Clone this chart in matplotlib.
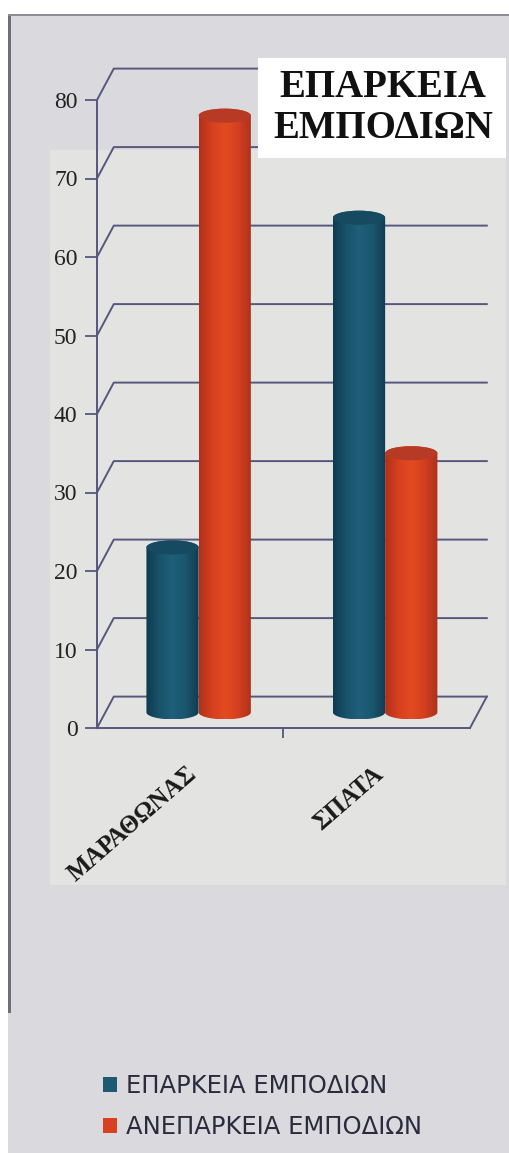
import numpy as np
import matplotlib.pyplot as plt
from matplotlib.patches import Polygon, Ellipse, Rectangle, Patch
from matplotlib.colors import LinearSegmentedColormap
from matplotlib.transforms import ScaledTranslation

categories = ["ΜΑΡΑΘΩΝΑΣ", "ΣΠΑΤΑ"]
series_names = ["ΕΠΑΡΚΕΙΑ ΕΜΠΟΔΙΩΝ", "ΑΝΕΠΑΡΚΕΙΑ ΕΜΠΟΔΙΩΝ"]
adequate = [21, 63]
inadequate = [76, 33]
yticks = [0, 10, 20, 30, 40, 50, 60, 70, 80]
title = "ΕΠΑΡΚΕΙΑ\nΕΜΠΟΔΙΩΝ"

W, H = 510, 1153
GRID = "#57577e"
DX, DY = 0.09, 4.0      # depth of the fake 3d box, data units
BAR_W, CAP_H = 0.28, 1.8

teal_cmap = LinearSegmentedColormap.from_list(
    "teal", ["#0f3b4f", "#18526b", "#1f5f79", "#1a566e", "#103c50"])
red_cmap = LinearSegmentedColormap.from_list(
    "red", ["#b0301a", "#d5401f", "#e24b22", "#d33f1f", "#ad301b"])
teal_cap, red_cap = "#164a60", "#b73a24"
teal, red = "#1d5a72", "#d9401f"

fig = plt.figure(figsize=(W / 100, H / 100), dpi=100, facecolor="#dadade")


def px_rect(x0, y0, x1, y1, color, z):
    r = Rectangle((x0 / W, 1 - y1 / H), (x1 - x0) / W, (y1 - y0) / H,
                  transform=fig.transFigure, facecolor=color,
                  edgecolor="none", zorder=z)
    fig.add_artist(r)


# page / scan background
px_rect(0, 0, W, 14, "white", -5)
px_rect(0, 0, 8, H, "white", -5)
px_rect(50, 150, 506, 885, "#e3e3e1", -4)
px_rect(8, 14, 11, 1013, "#6f6f78", -3)
px_rect(8, 14, W, 16, "#8c8c94", -3)

ax = fig.add_axes([97 / W, (H - 728) / H, 373 / W, 628 / H])
ax.set_facecolor("none")
ax.set_xlim(0, 2)
ax.set_ylim(0, 80)

# back wall gridlines + floor
for v in yticks:
    ax.plot([0, DX, 2 + DX], [v, v + DY, v + DY], color=GRID, lw=1.4,
            clip_on=False, zorder=1)
ax.plot([2, 2 + DX], [0, DY], color=GRID, lw=1.4, clip_on=False, zorder=1)


def cylinder(xc, value, cmap, cap_color, z):
    base, top = DY / 2, value + DY / 2
    t = np.linspace(np.pi, 2 * np.pi, 80)
    lower = np.column_stack([xc + BAR_W / 2 * np.cos(t), base + CAP_H / 2 * np.sin(t)])
    t2 = np.linspace(0, np.pi, 80)
    upper = np.column_stack([xc + BAR_W / 2 * np.cos(t2), top + CAP_H / 2 * np.sin(t2)])
    poly = Polygon(np.vstack([lower, upper]), closed=True, transform=ax.transData)
    grad = np.linspace(0, 1, 200).reshape(1, -1)
    im = ax.imshow(grad, cmap=cmap, aspect="auto", zorder=z,
                   extent=(xc - BAR_W / 2, xc + BAR_W / 2, base - CAP_H / 2, top + CAP_H / 2))
    im.set_clip_path(poly)
    ax.add_patch(Ellipse((xc, top), BAR_W, CAP_H, facecolor=cap_color,
                         edgecolor="none", zorder=z + 0.1))


x = np.arange(len(categories)) + 0.5
for i in range(len(categories)):
    cylinder(x[i] - BAR_W / 2 + DX / 2, adequate[i], teal_cmap, teal_cap, 3 + 2 * i)
    cylinder(x[i] + BAR_W / 2 + DX / 2, inadequate[i], red_cmap, red_cap, 4 + 2 * i)

ax.set_xlim(0, 2)
ax.set_ylim(0, 80)

for s in ["top", "right"]:
    ax.spines[s].set_visible(False)
for s in ["left", "bottom"]:
    ax.spines[s].set_color(GRID)
    ax.spines[s].set_linewidth(1.4)

ax.set_yticks(yticks)
ax.set_yticklabels([str(v) for v in yticks], fontsize=17,
                   family="Liberation Serif", color="#222222")
ax.tick_params(axis="y", length=9, width=1.3, color=GRID, pad=5)

ax.set_xticks(x)
ax.set_xticklabels(categories, rotation=41, ha="right", va="center",
                   rotation_mode="anchor", fontsize=18, fontweight="bold",
                   family="Liberation Serif", color="#1a1a1a")
ax.tick_params(axis="x", length=0, pad=31)
ax.set_xticks([1], minor=True)
ax.tick_params(axis="x", which="minor", length=7, width=1.3, color=GRID)
for lbl in ax.get_xticklabels():
    lbl.set_transform(lbl.get_transform() + ScaledTranslation(0.03, 0, fig.dpi_scale_trans))

# title box
px_rect(258, 58, 506, 158, "white", 5)
fig.text(383 / W, 1 - 108 / H, title, ha="center", va="center", fontsize=28,
         fontweight="bold", family="Liberation Serif", color="#111111",
         linespacing=1.15, zorder=6)

handles = [Patch(facecolor=teal, label=series_names[0]),
           Patch(facecolor=red, label=series_names[1])]
fig.legend(handles=handles, loc="upper left", bbox_to_anchor=(103 / W, 1 - 1074 / H),
           frameon=False, handlelength=0.58, handleheight=0.58, handletextpad=0.35,
           labelspacing=0.7, fontsize=17.5, labelcolor="#2b2b3d",
           borderaxespad=0, borderpad=0)

fig.savefig("out.png", dpi=100, facecolor=fig.get_facecolor())
